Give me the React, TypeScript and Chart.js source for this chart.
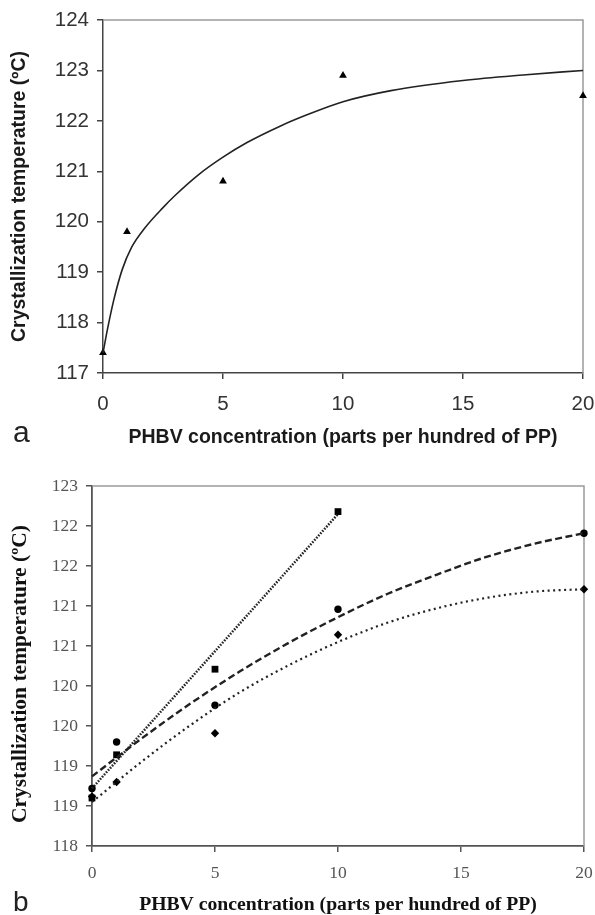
import React, { useEffect, useRef } from "react";
import { Chart, registerables } from "chart.js";

Chart.register(...registerables);

// ---------- Panel a data ----------
const aMarkX = [0, 1, 5, 10, 20];
const aMarkY = [117.4, 119.8, 120.8, 122.9, 122.5];
const aCurveX = [0, 0.2, 0.45, 0.8, 1.2, 1.75, 2.5, 3, 4, 5, 6, 7.4, 8.5, 10, 12, 15, 17.5, 20];
const aCurveY = [117.4, 117.9, 118.45, 119.05, 119.5, 119.88, 120.28, 120.52, 120.94, 121.28, 121.57, 121.9, 122.12, 122.38, 122.6, 122.8, 122.91, 123.0];
const aXTitle = "PHBV concentration (parts per hundred of PP)";
const aYTitle = "Crystallization temperature (ºC)";

// ---------- Panel b data ----------
const bSquareX = [0, 1, 5, 10];
const bSquareY = [118.6, 119.14, 120.21, 122.18];
const bCircleX = [0, 1, 5, 10, 20];
const bCircleY = [118.72, 119.3, 119.76, 120.96, 121.91];
const bDiamondX = [0, 1, 5, 10, 20];
const bDiamondY = [118.62, 118.8, 119.41, 120.64, 121.21];
const bLine1X = [0, 10];
const bLine1Y = [118.72, 122.15];
const bCurve2X = [0, 2, 4, 6, 8, 10, 12, 14, 16, 18, 20];
const bCurve2Y = [118.87, 119.34, 119.78, 120.18, 120.54, 120.86, 121.15, 121.39, 121.61, 121.78, 121.91];
const bCurve3X = [0, 2, 4, 6, 8, 10, 12, 14, 16, 18, 20];
const bCurve3Y = [118.55, 119.05, 119.51, 119.92, 120.26, 120.55, 120.79, 120.97, 121.1, 121.18, 121.21];

const toPts = (xs: number[], ys: number[]) => xs.map((x, i) => ({ x, y: ys[i] }));

const framePlugin = {
  id: "frame",
  beforeDatasetsDraw(chart: any) {
    const { ctx, chartArea } = chart;
    ctx.save();
    ctx.strokeStyle = "#9a9a9a";
    ctx.lineWidth = 1.5;
    ctx.beginPath();
    ctx.moveTo(chartArea.left, chartArea.top);
    ctx.lineTo(chartArea.right, chartArea.top);
    ctx.lineTo(chartArea.right, chartArea.bottom);
    ctx.stroke();
    ctx.restore();
  },
};

const fixX = (h: number) => (s: any) => {
  s.height = h;
  s.paddingLeft = 0;
  s.paddingRight = 0;
};
const fixY = (w: number) => (s: any) => {
  s.width = w;
  s.paddingTop = 0;
  s.paddingBottom = 0;
};

function PanelA() {
  const ref = useRef<HTMLCanvasElement>(null);
  useEffect(() => {
    const fam = "'Liberation Sans', Arial, sans-serif";
    const chart = new Chart(ref.current!, {
      type: "scatter",
      data: {
        datasets: [
          {
            data: toPts(aCurveX, aCurveY),
            showLine: true,
            borderColor: "#222",
            borderWidth: 1.6,
            pointRadius: 0,
            cubicInterpolationMode: "monotone",
            clip: false,
          } as any,
          {
            data: toPts(aMarkX, aMarkY),
            pointStyle: "triangle",
            pointRadius: 4.5,
            backgroundColor: "#000",
            borderColor: "#000",
            borderWidth: 0,
            clip: false,
          } as any,
        ],
      },
      options: {
        responsive: false,
        animation: false,
        layout: { padding: { top: 20, right: 12, left: 0, bottom: 0 } },
        plugins: { legend: { display: false }, tooltip: { enabled: false } },
        scales: {
          x: {
            type: "linear",
            min: 0,
            max: 20,
            ticks: { stepSize: 5, color: "#333", font: { family: fam, size: 20.5 }, padding: 13 },
            grid: { drawOnChartArea: false, tickLength: 6, color: "#444", lineWidth: 1.5 },
            border: { color: "#444", width: 1.5 },
            title: {
              display: true,
              text: aXTitle,
              color: "#1a1a1a",
              font: { family: fam, size: 19.5, weight: "bold", lineHeight: 1.1 },
              padding: { top: 0, bottom: 2 },
            },
            afterFit: fixX(77),
          },
          y: {
            type: "linear",
            min: 117,
            max: 124,
            ticks: { stepSize: 1, color: "#333", font: { family: fam, size: 20.5 }, padding: 8 },
            grid: { drawOnChartArea: false, tickLength: 6, color: "#444", lineWidth: 1.5 },
            border: { color: "#444", width: 1.5 },
            title: {
              display: true,
              text: aYTitle,
              color: "#1a1a1a",
              font: { family: fam, size: 19.5, weight: "bold", lineHeight: 1.1 },
              padding: { top: 9, bottom: 0 },
            },
            afterFit: fixY(103),
          },
        },
      } as any,
      plugins: [framePlugin],
    });
    return () => chart.destroy();
  }, []);
  return <canvas ref={ref} width={595} height={450} style={{ position: "absolute", left: 0, top: 0 }} />;
}

function PanelB() {
  const ref = useRef<HTMLCanvasElement>(null);
  useEffect(() => {
    const fam = "'Liberation Serif', 'Times New Roman', serif";
    const chart = new Chart(ref.current!, {
      type: "scatter",
      data: {
        datasets: [
          {
            data: toPts(bLine1X, bLine1Y),
            showLine: true,
            borderColor: "#222",
            borderWidth: 2.5,
            borderDash: [1.6, 1.4],
            pointRadius: 0,
            clip: false,
          } as any,
          {
            data: toPts(bCurve2X, bCurve2Y),
            showLine: true,
            borderColor: "#222",
            borderWidth: 2.4,
            borderDash: [7, 3.5],
            pointRadius: 0,
            cubicInterpolationMode: "monotone",
            clip: false,
          } as any,
          {
            data: toPts(bCurve3X, bCurve3Y),
            showLine: true,
            borderColor: "#222",
            borderWidth: 2.2,
            borderDash: [2, 3.5],
            pointRadius: 0,
            cubicInterpolationMode: "monotone",
            clip: false,
          } as any,
          {
            data: toPts(bSquareX, bSquareY),
            pointStyle: "rect",
            pointRadius: 4.8,
            backgroundColor: "#000",
            borderWidth: 0,
            clip: false,
          } as any,
          {
            data: toPts(bCircleX, bCircleY),
            pointStyle: "circle",
            pointRadius: 3.7,
            backgroundColor: "#000",
            borderWidth: 0,
            clip: false,
          } as any,
          {
            data: toPts(bDiamondX, bDiamondY),
            pointStyle: "rectRot",
            pointRadius: 4.2,
            backgroundColor: "#000",
            borderWidth: 0,
            clip: false,
          } as any,
        ],
      },
      options: {
        responsive: false,
        animation: false,
        layout: { padding: { top: 36, right: 11, left: 0, bottom: 0 } },
        plugins: { legend: { display: false }, tooltip: { enabled: false } },
        scales: {
          x: {
            type: "linear",
            min: 0,
            max: 20,
            ticks: { stepSize: 5, color: "#555", font: { family: fam, size: 17.5 }, padding: 11 },
            grid: { drawOnChartArea: false, tickLength: 6, color: "#555", lineWidth: 1.5 },
            border: { color: "#555", width: 1.8 },
            title: {
              display: true,
              text: aXTitle,
              color: "#111",
              font: { family: fam, size: 19.7, weight: "bold", lineHeight: 1.0 },
              padding: { top: 0, bottom: 0 },
            },
            afterFit: fixX(69),
          },
          y: {
            type: "linear",
            min: 118,
            max: 122.5,
            ticks: {
              stepSize: 0.5,
              autoSkip: false,
              color: "#555",
              font: { family: fam, size: 17.5 },
              padding: 8,
              callback: (v: any) => String(Math.round(Number(v))),
            },
            grid: { drawOnChartArea: false, tickLength: 6, color: "#555", lineWidth: 1.5 },
            border: { color: "#555", width: 1.8 },
            title: {
              display: true,
              text: aYTitle + "   ",
              color: "#111",
              font: { family: fam, size: 21.5, weight: "bold", lineHeight: 1.0 },
              padding: { top: 10, bottom: 0 },
            },
            afterFit: fixY(92),
          },
        },
      } as any,
      plugins: [framePlugin],
    });
    return () => chart.destroy();
  }, []);
  return <canvas ref={ref} width={595} height={465} style={{ position: "absolute", left: 0, top: 450 }} />;
}

export default function App() {
  return (
    <div style={{ position: "absolute", left: 0, top: 0, width: 595, height: 915, background: "#fff", overflow: "hidden" }}>
      <PanelA />
      <PanelB />
      <div
        style={{
          position: "absolute",
          left: 13,
          top: 417,
          fontFamily: "'Liberation Sans', Arial, sans-serif",
          fontSize: 30,
          lineHeight: "30px",
          color: "#222",
        }}
      >
        a
      </div>
      <div
        style={{
          position: "absolute",
          left: 13,
          top: 887,
          fontFamily: "'Liberation Sans', Arial, sans-serif",
          fontSize: 28,
          lineHeight: "30px",
          color: "#222",
        }}
      >
        b
      </div>
    </div>
  );
}
